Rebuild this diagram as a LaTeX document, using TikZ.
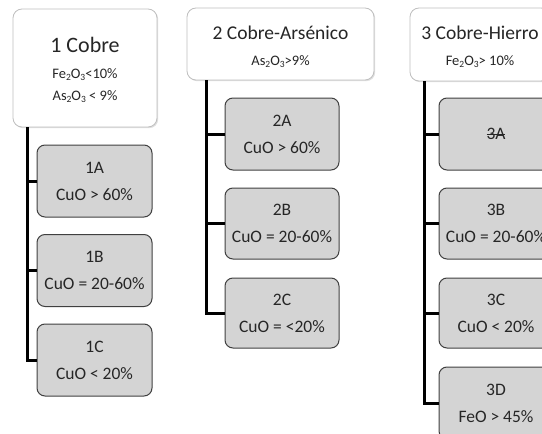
\documentclass[tikz,border=0pt]{standalone}
\usepackage{fontspec}
\setmainfont{Carlito}
\usetikzlibrary{shadows}
\definecolor{boxfill}{HTML}{D4D4D4}
\definecolor{boxline}{HTML}{404040}
\definecolor{topline}{HTML}{BFBFBF}
\definecolor{txt}{HTML}{262626}
\newcommand\lowx[1]{\raisebox{-0.3ex}{\fontsize{9.5}{10}\selectfont #1}}
\newcommand\strk[1]{\setbox0\hbox{#1}\rlap{\rule[0.42\ht0]{\wd0}{0.8pt}}\box0}
\begin{document}
\begin{tikzpicture}[x=1pt,y=-1pt,
  topbox/.style={draw=topline, line width=0.8pt, fill=white, rounded corners=9pt,
    drop shadow={shadow xshift=1.2pt, shadow yshift=-1.2pt, opacity=0.25}},
  subbox/.style={draw=boxline, line width=1pt, fill=boxfill, rounded corners=8pt,
    minimum width=115pt, minimum height=72pt, inner sep=0pt, align=center,
    text=txt, font=\fontsize{17.5}{27}\selectfont},
  conn/.style={line width=3pt, black},
  ttl/.style={text=txt, inner sep=0pt},
]
\useasboundingbox (0,0) rectangle (542,434);
% top boxes
\node[topbox, minimum width=144pt, minimum height=118pt, inner sep=0pt] (b1) at (85,68) {};
\node[topbox, minimum width=187pt, minimum height=72pt, inner sep=0pt] (b2) at (280.5,44) {};
\node[topbox, minimum width=140pt, minimum height=73pt, inner sep=0pt] (b3) at (480,44.5) {};
\node[ttl, font=\fontsize{22}{22}\selectfont] (t1) at (85,45) {1 Cobre};
\node[ttl, font=\fontsize{14.5}{15}\selectfont] (t1a) at (85,75) {Fe\lowx{2}O\lowx{3}<10\%};
\node[ttl, font=\fontsize{14.5}{15}\selectfont] (t1b) at (85,97) {As\lowx{2}O\lowx{3} < 9\%};
\node[ttl, font=\fontsize{19.5}{20}\selectfont] (t2) at (280.5,33) {2 Cobre-Arsénico};
\node[ttl, font=\fontsize{14.5}{15}\selectfont] (t2a) at (280.5,62) {As\lowx{2}O\lowx{3}>9\%};
\node[ttl, font=\fontsize{19.5}{20}\selectfont] (t3) at (480,33) {3 Cobre-Hierro};
\node[ttl, font=\fontsize{14.5}{15}\selectfont] (t3a) at (480,62) {Fe\lowx{2}O\lowx{3}> 10\%};
% sub boxes column 1
\node[subbox] (s1a) at (94.5,181) {1A\\CuO > 60\%};
\node[subbox] (s1b) at (94.5,270.5) {1B\\CuO = 20-60\%};
\node[subbox] (s1c) at (94.5,360) {1C\\CuO < 20\%};
% column 2
\node[subbox, minimum width=114pt] (s2a) at (282,134) {2A\\CuO > 60\%};
\node[subbox, minimum width=114pt, minimum height=71pt] (s2b) at (282,223.5) {2B\\CuO = 20-60\%};
\node[subbox, minimum width=114pt, minimum height=70pt] (s2c) at (282,313) {2C\\CuO = <20\%};
% column 3
\node[subbox, minimum width=114pt] (s3a) at (496,134) {\strk{3A}};
\node[subbox, minimum width=114pt, minimum height=71pt] (s3b) at (496,223.5) {3B\\CuO = 20-60\%};
\node[subbox, minimum width=114pt, minimum height=70pt] (s3c) at (496,313) {3C\\CuO < 20\%};
\node[subbox, minimum width=114pt] (s3d) at (496,403) {3D\\FeO > 45\%};
% connectors
\coordinate (k1) at (27,0);
\coordinate (k2) at (206,0);
\coordinate (k3) at (424,0);
\draw[conn] (b1.south -| k1) |- (s1c.west);
\draw[conn] (k1 |- s1a.west) -- (s1a.west);
\draw[conn] (k1 |- s1b.west) -- (s1b.west);
\draw[conn] (b2.south -| k2) |- (s2c.west);
\draw[conn] (k2 |- s2a.west) -- (s2a.west);
\draw[conn] (k2 |- s2b.west) -- (s2b.west);
\draw[conn] (b3.south -| k3) |- (s3d.west);
\draw[conn] (k3 |- s3a.west) -- (s3a.west);
\draw[conn] (k3 |- s3b.west) -- (s3b.west);
\draw[conn] (k3 |- s3c.west) -- (s3c.west);
\end{tikzpicture}
\end{document}
